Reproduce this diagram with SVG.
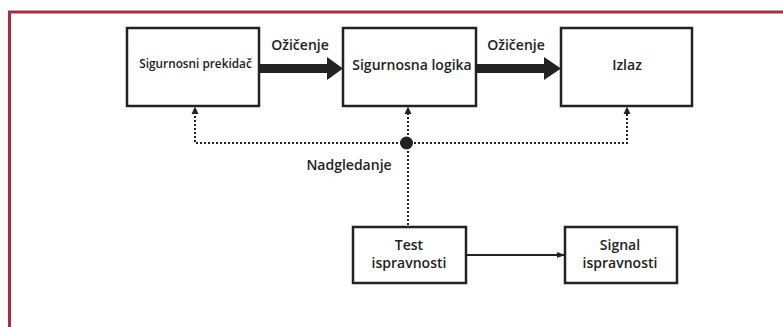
<svg xmlns="http://www.w3.org/2000/svg" width="783" height="327" viewBox="0 0 783 327">
<style>
.box{fill:#fff;stroke:#222;stroke-width:2.5}
.t{font-family:"Open Sans","Noto Sans",sans-serif;font-weight:600;fill:#222;text-anchor:middle}
.dot{fill:none;stroke:#222;stroke-width:2;stroke-dasharray:2 2}
.head{fill:#222}
</style>
<defs>
<marker id="small" viewBox="0 0 8 6" refX="8" refY="3" markerWidth="8" markerHeight="6" markerUnits="userSpaceOnUse" orient="auto">
<path d="M0,0 L8,3 L0,6 Z" fill="#222"/>
</marker>
</defs>
<rect x="9.5" y="12" width="800" height="400" fill="#fff" stroke="#a33040" stroke-width="3"/>
<g id="connectors">
<rect x="259" y="64" width="70" height="9" fill="#222"/>
<path class="head" d="M327,57 L343,68.5 L327,80 Z"/>
<rect x="476" y="64" width="70" height="9" fill="#222"/>
<path class="head" d="M544,57 L561,68.5 L544,80 Z"/>
<polyline class="dot" points="406,143 195,143 195,113"/>
<polyline class="dot" points="406,143 627,143 627,113"/>
<line class="dot" x1="408" y1="143" x2="408" y2="113"/>
<path class="head" d="M191.5,114 L195,106.5 L198.5,114 Z"/>
<path class="head" d="M404.5,114 L408,106.5 L411.5,114 Z"/>
<path class="head" d="M623.5,114 L627,106.5 L630.5,114 Z"/>
<line class="dot" x1="408" y1="143" x2="408" y2="226"/>
<circle cx="406.5" cy="143" r="6.5" fill="#222"/>
<line x1="466" y1="255" x2="565" y2="255" stroke="#222" stroke-width="2" marker-end="url(#small)"/>
<text class="t" x="300" y="50" font-size="14">Ožičenje</text>
<text class="t" x="516" y="50" font-size="14">Ožičenje</text>
<text class="t" x="349" y="170" font-size="14">Nadgledanje</text>
</g>
<g id="n1">
<rect class="box" x="127" y="28" width="132" height="78"/>
<text class="t" x="195.5" y="68" font-size="11.8">Sigurnosni prekidač</text>
</g>
<g id="n2">
<rect class="box" x="343" y="28" width="133" height="78"/>
<text class="t" x="412" y="70" font-size="14">Sigurnosna logika</text>
</g>
<g id="n3">
<rect class="box" x="561" y="28" width="131" height="78"/>
<text class="t" x="627" y="70" font-size="14">Izlaz</text>
</g>
<g id="n4">
<rect class="box" x="353" y="227" width="113" height="56"/>
<text class="t" x="409" y="250" font-size="14">Test</text>
<text class="t" x="409" y="268" font-size="14">ispravnosti</text>
</g>
<g id="n5">
<rect class="box" x="565" y="227" width="112" height="56"/>
<text class="t" x="620" y="250" font-size="14">Signal</text>
<text class="t" x="620" y="268" font-size="14">ispravnosti</text>
</g>
</svg>
